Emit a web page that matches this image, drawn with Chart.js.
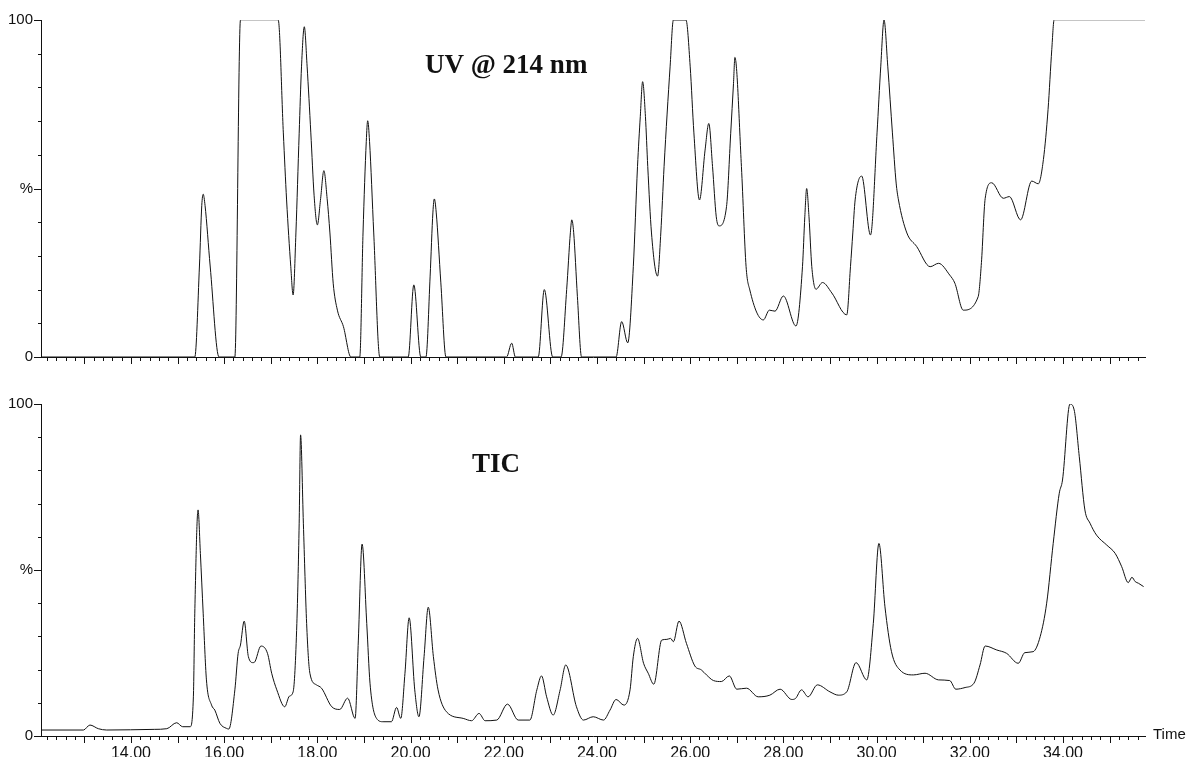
<!DOCTYPE html>
<html>
<head>
<meta charset="utf-8">
<script src="https://cdn.jsdelivr.net/npm/chart.js@4.4.1/dist/chart.umd.min.js"></script>
<style>
  body { margin: 0; background: #fff; }
  #uv { position: absolute; left: 0; top: 0; }
  #tic { position: absolute; left: 0; top: 380px; }
</style>
</head>
<body>
<canvas id="uv" width="1190" height="380"></canvas>
<canvas id="tic" width="1190" height="377"></canvas>
<script>
// retention time range (min)
const timeMin = 12.07;
const timeMax = 35.76;

// UV @ 214 nm trace, % of full scale
const uvTime = [
    12.07, 15.37, 15.47, 15.52, 15.55, 15.59, 15.70, 15.89,
    16.23, 16.35, 17.16, 17.27, 17.34, 17.43, 17.48, 17.54, 17.61, 17.66, 17.72, 17.78, 17.86, 17.93,
    18.00, 18.07, 18.14, 18.21, 18.27, 18.34, 18.43, 18.56, 18.72,
    18.91, 18.98, 19.05, 19.08, 19.12, 19.21, 19.34,
    19.95, 20.07, 20.22, 20.33, 20.42, 20.48, 20.51, 20.55, 20.65, 20.76,
    22.06, 22.17, 22.25, 22.74, 22.87, 23.05,
    23.23, 23.35, 23.43, 23.46, 23.50, 23.58, 23.67,
    24.41, 24.53, 24.66, 24.78, 24.87, 24.93, 24.98, 25.04, 25.09, 25.17, 25.30, 25.37, 25.44, 25.57, 25.64,
    25.91, 26.00, 26.08, 26.20, 26.32, 26.40, 26.48, 26.56, 26.62, 26.78, 26.87, 26.93, 26.96,
    27.10, 27.20, 27.28, 27.57, 27.70, 27.82, 28.00, 28.27, 28.41, 28.46, 28.50, 28.55, 28.61, 28.70, 28.84,
    29.04, 29.36, 29.44, 29.49, 29.54, 29.68, 29.87, 30.01, 30.09, 30.16, 30.24, 30.34, 30.42, 30.47,
    30.65, 30.86, 31.15, 31.33, 31.57, 31.68, 31.86, 32.18, 32.25, 32.33, 32.47, 32.72, 32.85,
    33.09, 33.33, 33.47, 33.58, 33.68, 33.76, 33.81, 35.76
];
const uvValue = [
    0, 0, 27, 45, 48.3, 45, 27, 0,
    0, 100, 100, 66.5, 46.6, 26.8, 18.4, 36.8, 66.4, 86.1, 98, 86.3, 66.5, 48,
    39.2, 47, 55.3, 47, 36.8, 21.9, 13.9, 9, 0,
    0, 36.8, 64, 70.1, 64, 36.8, 0,
    0, 21.4, 0, 0, 24, 43, 46.9, 43, 22, 0,
    0, 4.1, 0, 0, 20, 0,
    0, 20, 37, 40.7, 37, 18, 0,
    0, 10.5, 4.2, 26.8, 56.5, 71.4, 81.7, 71.4, 56.5, 36.8, 24, 36.8, 56.5, 86.3, 100,
    100, 86.3, 66.5, 46.6, 61.4, 69.3, 56.5, 41.6, 38.9, 44.6, 66.4, 81.2, 88.9,
    56.5, 26.8, 19.9, 11, 13.9, 13.6, 18.1, 9.2, 26.8, 41.6, 50, 41.6, 26.8, 20.1, 22.1,
    19, 12.5, 26.8, 36.8, 46.6, 53.7, 36.2, 66.5, 86.3, 100, 86.3, 66.5, 51.6, 46.6,
    36.8, 32.8, 26.8, 27.8, 24.3, 21.9, 13.9, 17.9, 28, 47, 51.7, 47.1, 47.6,
    40.7, 52.2, 51.4, 58.6, 73.5, 91.3, 100, 100
];

// total ion current trace, % of base peak
const ticTime = [
    12.08, 12.98, 13.12, 13.30, 13.48, 14.50, 14.77, 14.98, 15.11, 15.27, 15.34, 15.37, 15.44, 15.49, 15.55,
    15.62, 15.73, 15.80, 15.91, 16.05, 16.10, 16.23, 16.30, 16.35, 16.43, 16.52, 16.62, 16.65, 16.79, 16.93,
    17.02, 17.13, 17.30, 17.40, 17.48, 17.56, 17.61, 17.64, 17.70, 17.77, 17.84, 17.98, 18.09, 18.31, 18.48,
    18.65, 18.81, 18.88, 18.96, 19.06, 19.13, 19.27, 19.41, 19.59, 19.70, 19.79, 19.88, 19.97, 20.09, 20.18,
    20.29, 20.38, 20.49, 20.59, 20.77, 21.13, 21.31, 21.47, 21.60, 21.85, 22.08, 22.31, 22.56, 22.71, 22.81,
    22.92, 23.06, 23.21, 23.33, 23.56, 23.71, 23.92, 24.14, 24.28, 24.41, 24.58, 24.71, 24.78, 24.87, 25.00,
    25.10, 25.22, 25.39, 25.50, 25.58, 25.64, 25.76, 25.92, 26.10, 26.24, 26.35, 26.50, 26.67, 26.84, 27.00,
    27.21, 27.46, 27.71, 27.93, 28.18, 28.26, 28.39, 28.53, 28.73, 29.00, 29.18, 29.36, 29.56, 29.79, 29.93,
    30.05, 30.18, 30.32, 30.50, 30.79, 31.04, 31.33, 31.57, 31.70, 31.90, 32.09, 32.22, 32.33, 32.58, 32.79,
    33.04, 33.18, 33.36, 33.51, 33.65, 33.79, 33.92, 33.99, 34.15, 34.24, 34.35, 34.47, 34.58, 34.72, 34.94,
    35.12, 35.26, 35.40, 35.48, 35.55, 35.62, 35.73
];
const ticValue = [
    1.8, 1.8, 3.3, 2.2, 1.8, 2.0, 2.2, 4.0, 2.8, 2.8, 11.8, 37, 68.1, 55, 37,
    16.9, 9.3, 7.8, 3.8, 2.3, 2.1, 13.9, 24.9, 27.4, 34.6, 23.9, 22.1, 22.2, 27.1, 24.9,
    18.9, 13.9, 8.8, 12, 13.3, 33.9, 64.1, 90.7, 64.1, 33.9, 18.9, 15.4, 14.4, 8.8, 8,
    11.4, 5.3, 28.9, 57.8, 33.9, 15.9, 5.3, 4.3, 4.3, 8.6, 5.3, 18.9, 35.6, 13.9, 5.8,
    23.9, 38.8, 23.9, 13.9, 7.3, 5.3, 4.6, 6.8, 4.6, 4.8, 9.6, 4.8, 4.8, 13.9, 18.1,
    11.8, 6.3, 13.9, 21.4, 8.8, 4.8, 5.8, 4.8, 7.8, 11, 9.3, 13.9, 23.9, 29.4, 21.9,
    18.9, 15.6, 28.9, 29.1, 29.4, 28.4, 34.6, 27.9, 21.1, 19.9, 18.4, 16.7, 16.4, 18.1, 14.1,
    14.4, 11.8, 12.3, 14.1, 11, 11.3, 13.9, 11.8, 15.4, 13.3, 12.3, 13.3, 22.1, 16.9, 33.9,
    58, 38.9, 25.4, 19.9, 18.4, 18.9, 16.9, 16.7, 14.1, 14.6, 15.9, 21.4, 27.1, 25.9, 24.9,
    21.9, 25.1, 25.4, 29.9, 40, 58, 73.1, 77.1, 100, 98.2, 84.1, 68.1, 64.1, 60.5, 57.5,
    55, 51, 46.2, 47.8, 46.5, 46, 45
];

const yTickLabels = { 0: '0', 50: '%', 100: '100' };

const sansFont = "'Liberation Sans', Arial, sans-serif";
const inkColor = '#111';

const axisTicks = {
    id: 'axisTicks',
    afterDraw(chart) {
        const { ctx, scales: { x, y } } = chart;
        ctx.save();
        ctx.strokeStyle = inkColor;
        ctx.lineWidth = 1;
        ctx.beginPath();
        x.ticks.forEach(t => {
            const px = Math.round(x.getPixelForValue(t.value)) + 0.5;
            const major = Math.abs(t.value - Math.round(t.value)) < 1e-6;
            ctx.moveTo(px, x.top);
            ctx.lineTo(px, x.top + (major ? 7 : 4));
        });
        y.ticks.forEach(t => {
            const py = Math.round(y.getPixelForValue(t.value)) + 0.5;
            const major = Math.round(t.value) % 50 === 0;
            ctx.moveTo(y.right, py);
            ctx.lineTo(y.right - (major ? 7 : 3), py);
        });
        ctx.stroke();
        ctx.restore();
    }
};

const traceLabel = {
    id: 'traceLabel',
    afterDraw(chart, args, opts) {
        const { ctx, scales: { x, y } } = chart;
        ctx.save();
        ctx.fillStyle = inkColor;
        ctx.font = "bold 27px 'Liberation Serif', 'Times New Roman', serif";
        ctx.textAlign = 'left';
        ctx.textBaseline = 'alphabetic';
        ctx.fillText(opts.text, x.getPixelForValue(opts.at[0]), y.getPixelForValue(opts.at[1]));
        if (opts.axisTitle) {
            ctx.font = '15px ' + sansFont;
            ctx.textBaseline = 'middle';
            ctx.fillText(opts.axisTitle, x.right + 8, x.top - 1);
        }
        ctx.restore();
    }
};

const makeChart = (elementId, times, values, label, showTimeLabels) => {
    const ctx = document.getElementById(elementId).getContext('2d');
    return new Chart(ctx, {
        type: 'line',
        data: {
            datasets: [{
                data: times.map((t, i) => ({ x: t, y: values[i] })),
                borderColor: inkColor,
                borderWidth: 1,
                pointRadius: 0,
                fill: false,
                cubicInterpolationMode: 'monotone',
                segment: {
                    borderColor: c => (c.p0.parsed.y >= 100 && c.p1.parsed.y >= 100 &&
                        c.p1.parsed.x - c.p0.parsed.x > 0.5) ? '#8c8c8c' : undefined
                }
            }]
        },
        options: {
            responsive: false,
            animation: false,
            layout: { padding: { left: 0, right: 45, top: label.padTop, bottom: 0 } },
            plugins: {
                legend: { display: false },
                tooltip: { enabled: false },
                traceLabel: label
            },
            scales: {
                x: {
                    type: 'linear',
                    min: timeMin,
                    max: timeMax,
                    grid: { display: false },
                    border: { display: true, color: inkColor, width: 1 },
                    ticks: {
                        display: showTimeLabels,
                        stepSize: 0.2,
                        includeBounds: false,
                        autoSkip: false,
                        maxRotation: 0,
                        padding: 0,
                        color: inkColor,
                        font: { family: sansFont, size: 16 },
                        callback: v => {
                            const r = Math.round(v);
                            return (Math.abs(v - r) < 1e-6 && r % 2 === 0) ? r.toFixed(2) : '';
                        }
                    },
                    afterFit: s => { s.height = label.axisHeight; }
                },
                y: {
                    min: 0,
                    max: 100,
                    grid: { display: false },
                    border: { display: true, color: inkColor, width: 1 },
                    ticks: {
                        stepSize: 10,
                        autoSkip: false,
                        padding: 0,
                        color: inkColor,
                        font: { family: sansFont, size: 15 },
                        callback: v => yTickLabels[v] ?? ''
                    },
                    afterFit: s => { s.width = 41; }
                }
            }
        },
        plugins: [axisTicks, traceLabel]
    });
};

makeChart('uv', uvTime, uvValue,
    { text: 'UV @ 214 nm', at: [20.31, 84.4], padTop: 20, axisHeight: 23 }, false);
makeChart('tic', ticTime, ticValue,
    { text: 'TIC', at: [21.32, 79.6], padTop: 24, axisHeight: 21, axisTitle: 'Time' }, true);
</script>
</body>
</html>
